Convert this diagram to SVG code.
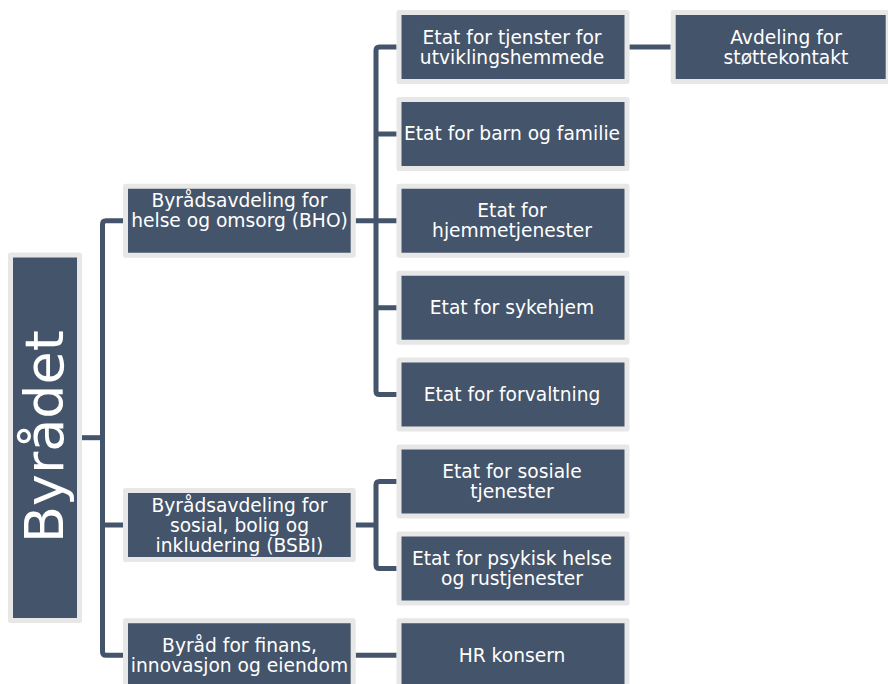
<svg xmlns="http://www.w3.org/2000/svg" width="888" height="684" viewBox="0 0 888 684">
<style>
.box{fill:#44546A;stroke:#E7E7E7;stroke-width:5;stroke-linejoin:round}
.t{fill:#FFFFFF;font-family:"DejaVu Sans",Verdana,sans-serif;font-size:18.67px;text-anchor:middle}
.big{fill:#FFFFFF;font-family:"DejaVu Sans",Verdana,sans-serif;font-size:54px;text-anchor:middle}
.c{fill:none;stroke:#44546A;stroke-width:5;stroke-linejoin:round}
</style>
<rect width="888" height="684" fill="#FFFFFF"/>
<g id="connectors">
<path class="c" d="M82,437.7 H102.5"/>
<path class="c" d="M123,220.8 H106 Q102.5,220.8 102.5,224.3 V651.8 Q102.5,655.3 106,655.3 H123"/>
<path class="c" d="M102.5,525 H123"/>
<path class="c" d="M355.7,220.8 H396.7"/>
<path class="c" d="M396.7,47 H379.5 Q376,47 376,50.5 V391.1 Q376,394.6 379.5,394.6 H396.7"/>
<path class="c" d="M376,133.9 H396.7 M376,307.7 H396.7"/>
<path class="c" d="M629.3,47 H670.7"/>
<path class="c" d="M355.7,525 H376"/>
<path class="c" d="M396.7,481.5 H379.5 Q376,481.5 376,485 V564.9 Q376,568.4 379.5,568.4 H396.7"/>
<path class="c" d="M355.7,655.3 H396.7"/>
</g>
<g id="byradet">
<rect class="box" x="10.5" y="255" width="69" height="365.5"/>
<text class="big" transform="translate(63.3,436.5) rotate(-90)">Byrådet</text>
</g>
<g id="bho">
<rect class="box" x="125.5" y="186.3" width="227.7" height="69"/>
<text class="t" x="239.5" y="207.3">Byrådsavdeling for</text>
<text class="t" x="239.5" y="227.3">helse og omsorg (BHO)</text>
</g>
<g id="bsbi">
<rect class="box" x="125.5" y="490.5" width="227.7" height="69"/>
<text class="t" x="239.5" y="511.5">Byrådsavdeling for</text>
<text class="t" x="239.5" y="531.5">sosial, bolig og</text>
<text class="t" x="239.5" y="551.5">inkludering (BSBI)</text>
</g>
<g id="finans">
<rect class="box" x="125.5" y="620.8" width="227.7" height="69"/>
<text class="t" x="239.5" y="651.8">Byråd for finans,</text>
<text class="t" x="239.5" y="671.8">innovasjon og eiendom</text>
</g>
<g id="utviklingshemmede">
<rect class="box" x="399" y="12.5" width="228" height="69"/>
<text class="t" x="512" y="43.5">Etat for tjenster for</text>
<text class="t" x="512" y="63.5">utviklingshemmede</text>
</g>
<g id="stottekontakt">
<rect class="box" x="673.2" y="12.5" width="215" height="69"/>
<text class="t" x="786" y="43.5">Avdeling for</text>
<text class="t" x="786" y="63.5">støttekontakt</text>
</g>
<g id="barn">
<rect class="box" x="399" y="99.4" width="228" height="69"/>
<text class="t" x="512" y="140.4">Etat for barn og familie</text>
</g>
<g id="hjemmetjenester">
<rect class="box" x="399" y="186.3" width="228" height="69"/>
<text class="t" x="512" y="217.3">Etat for</text>
<text class="t" x="512" y="237.3">hjemmetjenester</text>
</g>
<g id="sykehjem">
<rect class="box" x="399" y="273.2" width="228" height="69"/>
<text class="t" x="512" y="314.2">Etat for sykehjem</text>
</g>
<g id="forvaltning">
<rect class="box" x="399" y="360.1" width="228" height="69"/>
<text class="t" x="512" y="401.1">Etat for forvaltning</text>
</g>
<g id="sosiale">
<rect class="box" x="399" y="447" width="228" height="69"/>
<text class="t" x="512" y="478">Etat for sosiale</text>
<text class="t" x="512" y="498">tjenester</text>
</g>
<g id="psykisk">
<rect class="box" x="399" y="533.9" width="228" height="69"/>
<text class="t" x="512" y="564.9">Etat for psykisk helse</text>
<text class="t" x="512" y="584.9">og rustjenester</text>
</g>
<g id="hr">
<rect class="box" x="399" y="620.8" width="228" height="69"/>
<text class="t" x="512" y="661.8">HR konsern</text>
</g>
</svg>
